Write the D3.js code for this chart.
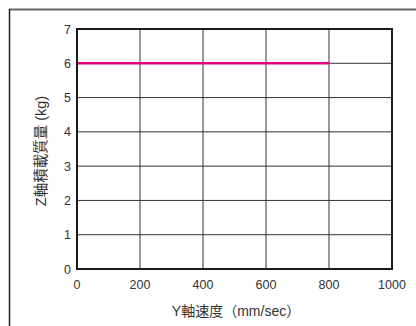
<!DOCTYPE html>
<html><head><meta charset="utf-8">
<script src="https://cdn.jsdelivr.net/npm/d3@7"></script>
<style>html,body{margin:0;padding:0;background:#fff;overflow:hidden}</style>
</head><body>
<script>
const xTicks = [0, 200, 400, 600, 800, 1000];
const yTicks = [0, 1, 2, 3, 4, 5, 6, 7];
const speed = [0, 800];
const payload = [6, 6];
const xTitle = "Y軸速度（mm/sec）";
const yTitle = "Z軸積載質量 (kg)";

const W = 416, H = 326;
const svg = d3.select("body").append("svg").attr("width", W).attr("height", H);
const font = "'Liberation Sans', Arial, 'Noto Sans CJK JP', sans-serif";

// outer frame
svg.append("line").attr("x1", 9).attr("x2", W).attr("y1", 9.5).attr("y2", 9.5)
  .attr("stroke", "#666").attr("stroke-width", 2);
svg.append("line").attr("x1", 9.5).attr("x2", 9.5).attr("y1", 9).attr("y2", H)
  .attr("stroke", "#222").attr("stroke-width", 1.5);

const x = d3.scaleLinear().domain([0, 1000]).range([77, 392]);
const y = d3.scaleLinear().domain([0, 7]).range([269, 29]);

const g = svg.append("g");
g.selectAll(".vg").data(xTicks.slice(1, -1)).enter().append("line")
  .attr("x1", d => x(d)).attr("x2", d => x(d)).attr("y1", y(0)).attr("y2", y(7))
  .attr("stroke", "#333").attr("stroke-width", 1);
g.selectAll(".hg").data(yTicks.slice(1, -1)).enter().append("line")
  .attr("x1", x(0)).attr("x2", x(1000)).attr("y1", d => y(d)).attr("y2", d => y(d))
  .attr("stroke", "#333").attr("stroke-width", 1);

g.append("path")
  .datum(speed.map((s, i) => [s, payload[i]]))
  .attr("d", d3.line().x(d => x(d[0])).y(d => y(d[1])))
  .attr("fill", "none").attr("stroke", "#e5007e").attr("stroke-width", 2.5);

g.append("rect").attr("x", x(0)).attr("y", y(7)).attr("width", x(1000) - x(0)).attr("height", y(0) - y(7))
  .attr("fill", "none").attr("stroke", "#1a1a1a").attr("stroke-width", 2);

g.selectAll(".xl").data(xTicks).enter().append("text")
  .attr("x", d => x(d)).attr("y", 289).attr("text-anchor", "middle")
  .attr("font-family", font).attr("font-size", 12.5).attr("fill", "#333").text(d => d);
g.selectAll(".yl").data(yTicks).enter().append("text")
  .attr("x", 71).attr("y", d => y(d) + 4.5).attr("text-anchor", "end")
  .attr("font-family", font).attr("font-size", 12.5).attr("fill", "#333").text(d => d);

svg.append("text").attr("x", 236).attr("y", 316).attr("text-anchor", "middle")
  .attr("font-family", font).attr("font-size", 14).attr("fill", "#333").text(xTitle);
svg.append("text").attr("transform", "translate(46,151) rotate(-90)").attr("text-anchor", "middle")
  .attr("font-family", font).attr("font-size", 14.5).attr("fill", "#333").text(yTitle);
</script>
</body></html>
